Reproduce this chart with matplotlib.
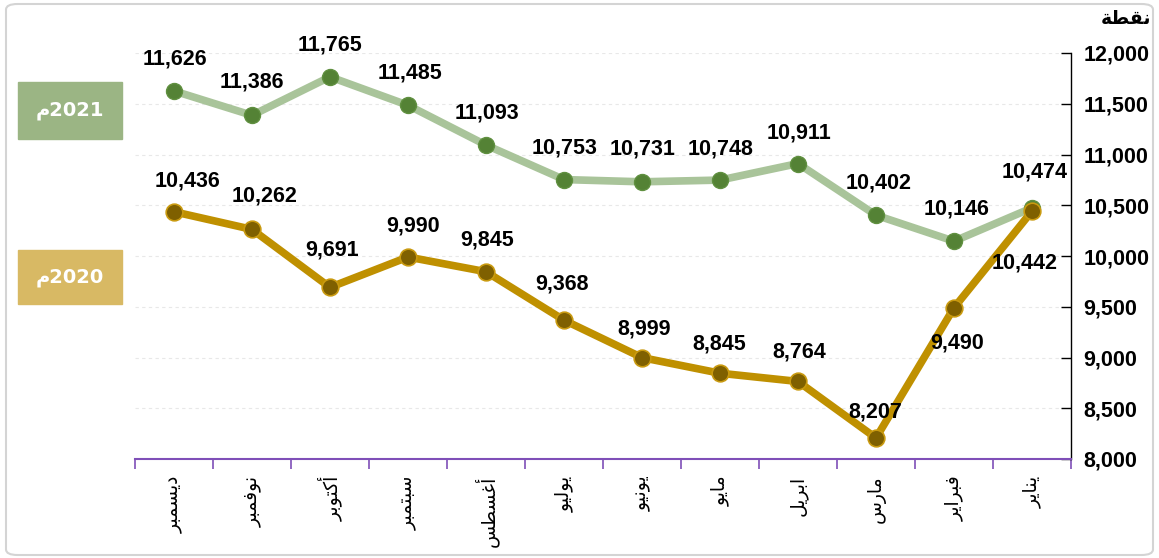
import matplotlib
matplotlib.use("Agg")
import matplotlib.pyplot as plt
from matplotlib.patches import Rectangle, FancyBboxPatch
from matplotlib.ticker import FuncFormatter

# --- donnees (janvier -> decembre) ---
mois = ["يناير", "فبراير", "مارس", "ابريل", "مايو", "يونيو",
        "يوليو", "أغسطس", "سبتمبر", "أكتوبر", "نوفمبر", "ديسمبر"]
val_2021 = [10474, 10146, 10402, 10911, 10748, 10731, 10753, 11093, 11485, 11765, 11386, 11626]
val_2020 = [10442, 9490, 8207, 8764, 8845, 8999, 9368, 9845, 9990, 9691, 10262, 10436]
serie_2021 = "2021"
serie_2020 = "2020"
unite = "نقطة"
suffixe = "م"

# decalage des etiquettes (pixels)
off_2021 = [(3, 36), (3, 32), (3, 32), (1, 31), (1, 31), (1, 33),
            (1, 32), (1, 32), (2, 32), (0, 32), (0, 33), (1, 32)]
off_2020 = [(-7, -52), (3, -35), (-1, 26), (1, 29), (-1, 29), (2, 29),
            (-2, 36), (1, 32), (5, 31), (2, 37), (13, 33), (14, 31)]

# formes contextuelles arabes : isole, final, initial, median
FORMES = {
    "ا": (0xFE8D, 0xFE8E, None, None), "أ": (0xFE83, 0xFE84, None, None),
    "ب": (0xFE8F, 0xFE90, 0xFE91, 0xFE92), "ة": (0xFE93, 0xFE94, None, None),
    "ت": (0xFE95, 0xFE96, 0xFE97, 0xFE98), "د": (0xFEA9, 0xFEAA, None, None),
    "ر": (0xFEAD, 0xFEAE, None, None), "س": (0xFEB1, 0xFEB2, 0xFEB3, 0xFEB4),
    "ط": (0xFEC1, 0xFEC2, 0xFEC3, 0xFEC4), "غ": (0xFECD, 0xFECE, 0xFECF, 0xFED0),
    "ف": (0xFED1, 0xFED2, 0xFED3, 0xFED4), "ق": (0xFED5, 0xFED6, 0xFED7, 0xFED8),
    "ك": (0xFED9, 0xFEDA, 0xFEDB, 0xFEDC), "ل": (0xFEDD, 0xFEDE, 0xFEDF, 0xFEE0),
    "م": (0xFEE1, 0xFEE2, 0xFEE3, 0xFEE4), "ن": (0xFEE5, 0xFEE6, 0xFEE7, 0xFEE8),
    "و": (0xFEED, 0xFEEE, None, None), "ي": (0xFEF1, 0xFEF2, 0xFEF3, 0xFEF4),
}


def arabe(mot):
    out = []
    for i, c in enumerate(mot):
        if c not in FORMES:
            out.append(c)
            continue
        f = FORMES[c]
        prev = mot[i - 1] if i > 0 else None
        nxt = mot[i + 1] if i + 1 < len(mot) else None
        j_prev = prev in FORMES and FORMES[prev][2] is not None
        j_next = f[2] is not None and nxt in FORMES
        if j_prev and j_next:
            code = f[3]
        elif j_prev:
            code = f[1]
        elif j_next:
            code = f[2]
        else:
            code = f[0]
        out.append(chr(code))
    return "".join(reversed(out))


plt.rcParams["font.family"] = ["Liberation Sans", "DejaVu Sans"]

W, H = 1159, 558
fig = plt.figure(figsize=(W / 100, H / 100), dpi=100)
ax = fig.add_axes([135 / W, (H - 459) / H, (1071 - 135) / W, (459 - 53) / H])

x = list(range(len(mois)))
ax.plot(x, val_2021, color="#a9c49a", lw=5.5, marker="o", ms=11.5,
        mfc="#548235", mec="#609040", mew=1, zorder=3)
ax.plot(x, val_2020, color="#bf9000", lw=5.5, marker="o", ms=12,
        mfc="#7f6000", mec="#c99a10", mew=1.2, zorder=4)

for xi, v, o in zip(x, val_2021, off_2021):
    ax.annotate(f"{v:,}", (xi, v), xytext=o, textcoords="offset pixels",
                ha="center", va="center", fontsize=15.5, fontweight="bold", zorder=6)
for xi, v, o in zip(x, val_2020, off_2020):
    ax.annotate(f"{v:,}", (xi, v), xytext=o, textcoords="offset pixels",
                ha="center", va="center", fontsize=15.5, fontweight="bold", zorder=6)

ax.set_xlim(len(mois) - 0.5, -0.5)
ax.set_ylim(8000, 12000)
ax.set_yticks(range(8000, 12001, 500))
ax.yaxis.set_major_formatter(FuncFormatter(lambda v, p: f"{int(v):,}"))
ax.yaxis.tick_right()
ax.tick_params(axis="y", direction="in", length=7, width=1, pad=9,
               labelsize=15.5)
for t in ax.get_yticklabels():
    t.set_fontweight("bold")

ax.set_xticks([i + 0.5 for i in range(-1, len(mois))], minor=False)
ax.set_xticklabels([])
ax.set_xticks(x, minor=True)
ax.set_xticklabels([arabe(m) for m in mois], minor=True, rotation=90,
                   fontsize=13.5, family="DejaVu Sans", va="top")
ax.tick_params(axis="x", which="major", direction="out", length=7,
               color="#7f4fb8", width=1.2)
ax.tick_params(axis="x", which="minor", length=0, pad=12)

for s in ["top", "left"]:
    ax.spines[s].set_visible(False)
ax.spines["bottom"].set_color("#7f4fb8")
ax.spines["bottom"].set_linewidth(1.5)
ax.spines["right"].set_color("black")
ax.spines["right"].set_linewidth(1)
ax.grid(axis="y", color="#e8e8e8", ls=(0, (3, 3)), lw=0.8)
ax.set_axisbelow(True)

fig.text(1126 / W, 1 - 18 / H, arabe(unite), ha="center", va="center",
         fontsize=13.5, fontweight="bold", family="DejaVu Sans")

# encadres des annees
for y0, y1, coul, nom in [(82, 139, "#9bb584", serie_2021), (250, 304, "#d8b964", serie_2020)]:
    fig.patches.append(Rectangle((18 / W, 1 - y1 / H), 104 / W, (y1 - y0) / H,
                                 transform=fig.transFigure, color=coul, zorder=1))
    fig.text(70 / W, 1 - (y0 + y1) / 2 / H, arabe(suffixe) + nom, ha="center", va="center",
             color="white", fontsize=14, fontweight="bold", family=["DejaVu Sans"])

fig.patches.append(FancyBboxPatch((6 / W, 3 / H), 1147 / W, 551 / H,
                                  boxstyle="round,pad=0,rounding_size=0.01",
                                  transform=fig.transFigure, fill=False,
                                  ec="#d4d4d4", lw=1.5))

fig.savefig("out.png", dpi=100)
